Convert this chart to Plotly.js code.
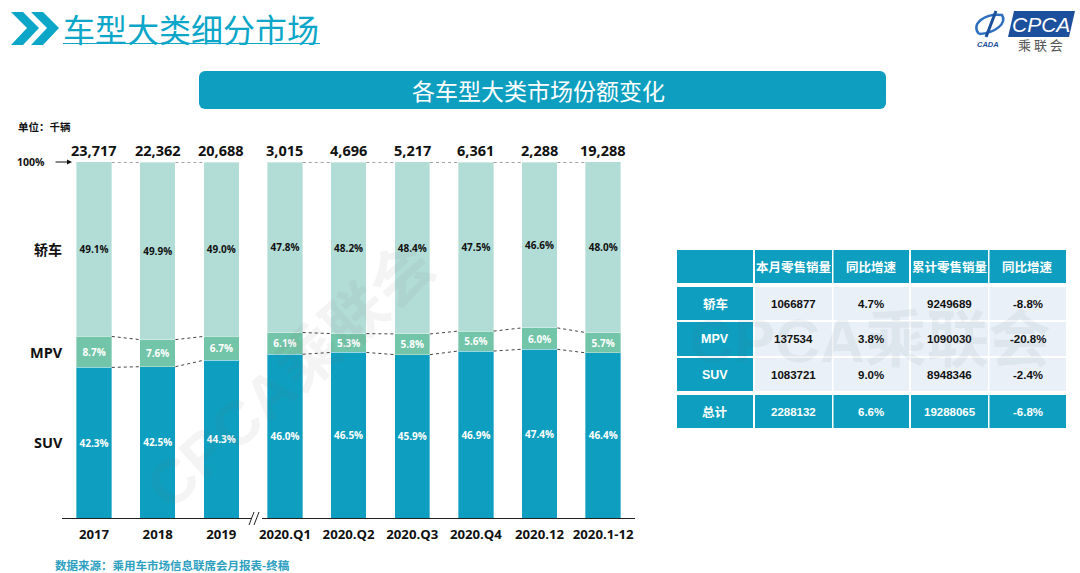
<!DOCTYPE html>
<html>
<head>
<meta charset="utf-8">
<script src="https://cdn.plot.ly/plotly-3.0.1.min.js"></script>
<style>
    html, body { margin: 0; padding: 0; background: #fff; }
</style>
</head>
<body>
<div id="chart" style="width:1080px;height:573px;"></div>
<script>
    const categories = ['2017', '2018', '2019', '2020.Q1', '2020.Q2', '2020.Q3', '2020.Q4', '2020.12', '2020.1-12'];
    const totals = ['23,717', '22,362', '20,688', '3,015', '4,696', '5,217', '6,361', '2,288', '19,288'];
    const suv = [42.3, 42.5, 44.3, 46.0, 46.5, 45.9, 46.9, 47.4, 46.4];
    const mpv = [8.7, 7.6, 6.7, 6.1, 5.3, 5.8, 5.6, 6.0, 5.7];
    const sedan = [49.1, 49.9, 49.0, 47.8, 48.2, 48.4, 47.5, 46.6, 48.0];

    const tableHead = ['', '本月零售销量', '同比增速', '累计零售销量', '同比增速'];
    const tableSedan = ['轿车', '1066877', '4.7%', '9249689', '-8.8%'];
    const tableMpv = ['MPV', '137534', '3.8%', '1090030', '-20.8%'];
    const tableSuv = ['SUV', '1083721', '9.0%', '8948346', '-2.4%'];
    const tableTotal = ['总计', '2288132', '6.6%', '19288065', '-6.8%'];

    const W = 1080, H = 573;
    const TEAL = '#0e9fc0', GREEN = '#72c5a8', PALE = '#b2ddd6', CELL = '#e9f0f8';
    const FONT = '"Open Sans", "Noto Sans CJK SC", sans-serif';
    const CJK = '"Noto Sans CJK SC", sans-serif';
    const ARIAL = '"Liberation Sans", "Noto Sans CJK SC", sans-serif';

    // pixel position on the page -> paper fraction
    const px = x => x / W;
    const py = y => 1 - y / H;

    function bars(name, values, color, textColor) {
        return {
            type: 'bar', name: name, x: categories, y: values,
            text: values.map(v => v.toFixed(1) + '%'),
            textposition: 'inside', insidetextanchor: 'middle', textangle: 0, constraintext: 'none',
            insidetextfont: { family: FONT, size: 10, color: textColor, weight: 700 },
            marker: { color: color, line: { color: 'rgba(255,255,255,0.35)', width: 1 } },
            hoverinfo: 'skip', showlegend: false
        };
    }

    const data = [
        bars('SUV', suv, TEAL, '#ffffff'),
        bars('MPV', mpv, GREEN, '#ffffff'),
        bars('轿车', sedan, PALE, '#111111')
    ];

    // dashed connectors between neighbouring bars, none across the axis break
    const shapes = [];
    const halfBar = 0.279;
    const level1 = suv, level2 = suv.map((v, i) => v + mpv[i]);
    categories.forEach((c, i) => {
        if (i === categories.length - 1 || i === 2) return;
        [level1[i], level2[i], 100].forEach((lv, k) => {
            const next = [level1[i + 1], level2[i + 1], 100][k];
            shapes.push({
                type: 'line', xref: 'x', yref: 'y',
                x0: i + halfBar, x1: i + 1 - halfBar, y0: lv, y1: next,
                line: { color: '#444444', width: 1, dash: 'dot' }
            });
        });
    });

    function polygon(points) {
        return 'M' + points.map(p => px(p[0]) + ',' + py(p[1])).join('L') + 'Z';
    }
    function pagePath(d, color) {
        return { type: 'path', xref: 'paper', yref: 'paper', path: d, fillcolor: color, line: { width: 0 }, layer: 'above' };
    }
    function pageLine(x0, y0, x1, y1, color, width) {
        return {
            type: 'line', xref: 'paper', yref: 'paper',
            x0: px(x0), y0: py(y0), x1: px(x1), y1: py(y1),
            line: { color: color, width: width }, layer: 'above'
        };
    }
    function pageRect(x0, y0, x1, y1, color) {
        return {
            type: 'rect', xref: 'paper', yref: 'paper', layer: 'below',
            x0: px(x0), x1: px(x1), y0: py(y1), y1: py(y0), fillcolor: color, line: { width: 0 }
        };
    }

    // header chevrons
    shapes.push(pagePath(polygon([[11, 12], [23, 12], [39, 28], [23, 45], [11, 45], [27, 28]]), '#0ba6c8'));
    shapes.push(pagePath(polygon([[31, 12], [43, 12], [59, 28], [43, 45], [31, 45], [47, 28]]), '#0ba6c8'));
    shapes.push(pageLine(63, 43.5, 320, 43.5, '#0ba6c8', 1.2));

    // banner with rounded corners
    const r = 6, bx0 = 199, bx1 = 886, by0 = 71, by1 = 109;
    shapes.push(pageRect(bx0 + r, by0, bx1 - r, by1, TEAL));
    shapes.push(pageRect(bx0, by0 + r, bx1, by1 - r, TEAL));
    [[bx0, by0], [bx1 - 2 * r, by0], [bx0, by1 - 2 * r], [bx1 - 2 * r, by1 - 2 * r]].forEach(c => {
        shapes.push({
            type: 'circle', xref: 'paper', yref: 'paper', layer: 'below',
            x0: px(c[0]), x1: px(c[0] + 2 * r), y0: py(c[1] + 2 * r), y1: py(c[1]), fillcolor: TEAL, line: { width: 0 }
        });
    });

    // axis break
    shapes.push(pageLine(251, 518, 262, 518, '#ffffff', 3));
    shapes.push(pageLine(249, 525, 254, 512, '#222222', 1));
    shapes.push(pageLine(254, 525, 259, 512, '#222222', 1));

    // logo
    shapes.push(pagePath(polygon([[1014, 11], [1075, 11], [1069, 37], [1008, 37]]), '#1c4f9c'));
    const swirl = { type: 'path', xref: 'paper', yref: 'paper', layer: 'above', line: { color: '#2f6fc0', width: 2.5 },
        path: 'M' + px(979) + ',' + py(34) + 'C' + px(970) + ',' + py(24) + ' ' + px(985) + ',' + py(13) + ' ' + px(1002) + ',' + py(15) +
              'C' + px(1007) + ',' + py(23) + ' ' + px(996) + ',' + py(33) + ' ' + px(979) + ',' + py(34) };
    shapes.push(swirl);
    shapes.push(pageLine(996, 11, 986, 37, '#1c4f9c', 3));

    function note(text, x, y, size, color, anchor, bold, family) {
        return {
            xref: 'paper', yref: 'paper', x: px(x), y: py(y), text: text, showarrow: false,
            xanchor: anchor || 'left', yanchor: 'middle',
            font: { family: family || CJK, size: size, color: color, weight: bold ? 700 : 400 }
        };
    }

    const annotations = [
        note('车型大类细分市场', 61, 28, 32, '#0ba6c8'),
        note('各车型大类市场份额变化', 538, 90, 23, '#ffffff', 'center'),
        note('单位：千辆', 16, 126, 10.5, '#111111', 'left', true),
        note('100%', 15, 162, 10.5, '#111111', 'left', true, FONT),
        note('轿车', 64, 249, 14, '#111111', 'right', true),
        note('MPV', 65, 352, 14.5, '#111111', 'right', true, FONT),
        note('SUV', 65, 443, 14.5, '#111111', 'right', true, FONT),
        note('数据来源：乘用车市场信息联席会月报表-终稿', 53, 565, 11.5, '#2e9fbf', 'left', true),
        note('<i>CPCA</i>', 1041, 24, 21, '#ffffff', 'center', false, '"Liberation Sans", sans-serif'),
        note('乘 联 会', 1040, 44, 13, '#555555', 'center'),
        note('<i>CADA</i>', 988, 44, 7.5, '#1c4f9c', 'center', true, '"Liberation Sans", sans-serif'),
        // arrow next to 100%
        {
            xref: 'paper', yref: 'paper', axref: 'paper', ayref: 'paper',
            x: px(72), y: py(162), ax: px(54), ay: py(162), text: '', showarrow: true,
            arrowhead: 2, arrowsize: 1, arrowwidth: 1, arrowcolor: '#111111'
        }
    ];

    // totals above each bar
    categories.forEach((c, i) => {
        annotations.push({
            xref: 'x', yref: 'y', x: i, y: 100, yshift: 11, text: totals[i], showarrow: false,
            font: { family: FONT, size: 14.5, color: '#111111', weight: 700 }
        });
    });

    // table: cell edges in page pixels
    const colEdges = [[677, 753], [755, 832], [833.5, 909], [911, 988], [989.5, 1066]];
    const tableLines = [
        { row: tableHead, y0: 250, y1: 283, head: true, dark: true },
        { row: tableSedan, y0: 287, y1: 320 },
        { row: tableMpv, y0: 322, y1: 356 },
        { row: tableSuv, y0: 358, y1: 391 },
        { row: tableTotal, y0: 395, y1: 428, dark: true }
    ];
    tableLines.forEach(line => {
        line.row.forEach((value, j) => {
            const edge = colEdges[j];
            const dark = line.dark || j === 0;
            shapes.push(pageRect(edge[0], line.y0, edge[1], line.y1, dark ? TEAL : CELL));
            if (value === '') return;
            const isCjk = line.head || (j === 0 && value.charCodeAt(0) > 255);
            annotations.push(note(value, (edge[0] + edge[1]) / 2, (line.y0 + line.y1) / 2,
                isCjk ? 12.5 : (j === 0 ? 12.5 : 11.5), dark ? '#ffffff' : '#111111', 'center', true, isCjk ? CJK : ARIAL));
        });
    });

    // watermarks
    annotations.push({
        xref: 'paper', yref: 'paper', x: px(290), y: py(375), xanchor: 'center', yanchor: 'middle',
        text: 'CPCA乘联会', showarrow: false, textangle: -42,
        font: { family: ARIAL, size: 62, color: 'rgba(110,110,110,0.08)', weight: 700 }
    });
    annotations.push({
        xref: 'paper', yref: 'paper', x: px(870), y: py(340), xanchor: 'center', yanchor: 'middle',
        text: 'CPCA乘联会', showarrow: false,
        font: { family: ARIAL, size: 62, color: 'rgba(90,100,120,0.08)', weight: 700 }
    });

    const layout = {
        width: W, height: H,
        margin: { l: 0, r: 0, t: 0, b: 0 },
        paper_bgcolor: '#ffffff', plot_bgcolor: '#ffffff',
        barmode: 'stack', bargap: 0.443,
        showlegend: false,
        xaxis: {
            domain: [px(62.2), px(635)], range: [-0.5, 8.5], type: 'category',
            showgrid: false, zeroline: false, showline: true, linecolor: '#222222', linewidth: 1,
            ticks: '', tickfont: { family: FONT, size: 13.2, color: '#111111', weight: 700 }, ticklabelstandoff: 4,
            fixedrange: true
        },
        yaxis: {
            domain: [py(518), py(162)], range: [0, 100],
            showgrid: false, zeroline: false, showline: false, showticklabels: false, ticks: '',
            fixedrange: true
        },
        shapes: shapes,
        annotations: annotations
    };

    Plotly.newPlot('chart', data, layout, { displayModeBar: false, staticPlot: true });
</script>
</body>
</html>
